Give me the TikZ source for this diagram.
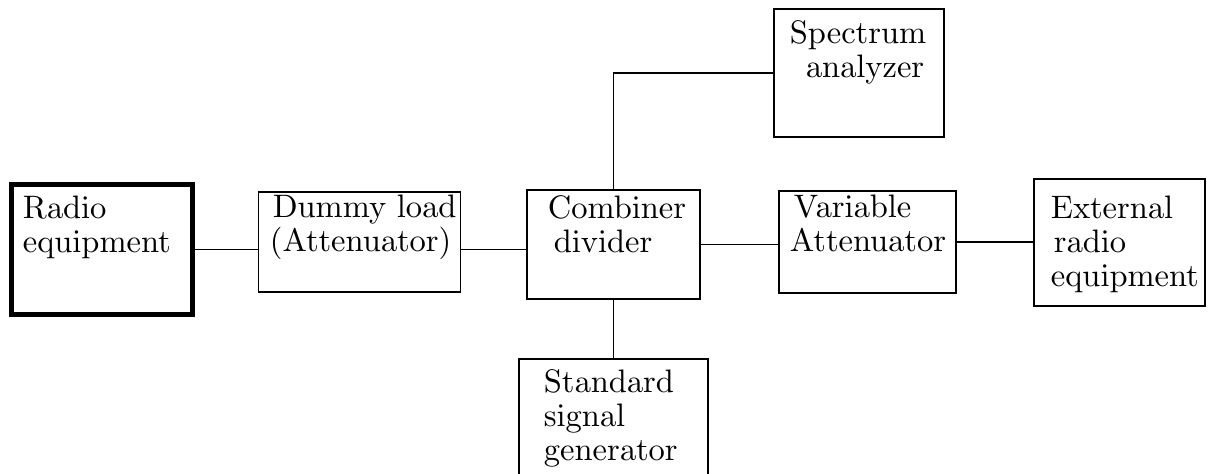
\documentclass[tikz,border=0pt]{standalone}
\usepackage{tikz}
\usetikzlibrary{positioning}
\font\blkfont=cmr10 at 32.5pt

\begin{document}
\begin{tikzpicture}[x=1pt,y=-1pt,line width=1.8pt,
  blk/.style={draw,inner sep=0pt,outer sep=0pt,anchor=north west},
  txt/.style={font={\blkfont\baselineskip=34pt\relax},align=left,inner sep=0pt,anchor=north west}]
\useasboundingbox (0,0) rectangle (1211,474);
% blocks
\node[blk,line width=5pt,minimum width=181pt,minimum height=130pt] (radio) at (11.5,184.5) {};
\node[blk,minimum width=202pt,minimum height=100pt] (dummy) at (258.5,192) {};
\node[blk,minimum width=173pt,minimum height=109pt] (combiner) at (527,190) {};
\node[blk,minimum width=177pt,minimum height=102pt] (variable) at (779,191) {};
\node[blk,minimum width=171pt,minimum height=127pt] (external) at (1034,179) {};
\node[blk,minimum width=170pt,minimum height=128pt] (spectrum) at (774,9) {};
\node[blk,minimum width=189pt,minimum height=140pt] (standard) at (519,359) {};
% texts
\node[txt] (radiotxt) at (22,195.4) {Radio\\equipment};
\node[txt] (dummytxt) at (269,194.4) {\hspace*{3pt}Dummy load\\(Attenuator)};
\node[txt] (combinertxt) at (547,195.4) {Combiner\\\hspace*{6pt}divider};
\node[txt] (variabletxt) at (789,194.4) {\hspace*{4pt}Variable\\Attenuator};
\node[txt] (externaltxt) at (1050,195.4) {External\\\hspace*{3pt}radio\\equipment};
\node[txt] (spectrumtxt) at (789,20.4) {Spectrum\\\hspace*{16pt}analyzer};
\node[txt] (standardtxt) at (543,369.4) {Standard\\signal\\generator};
% connections
\draw (radio.east) -- (radio.east -| dummy.west);
\draw (radio.east -| dummy.east) -- (radio.east -| combiner.west);
\draw (combiner.east) -- (combiner.east -| variable.west);
\draw (variable.east) -- (variable.east -| external.west);
\draw (combiner.north) |- (spectrum.west);
\draw (combiner.south) -- (standard.north);
\end{tikzpicture}
\end{document}
